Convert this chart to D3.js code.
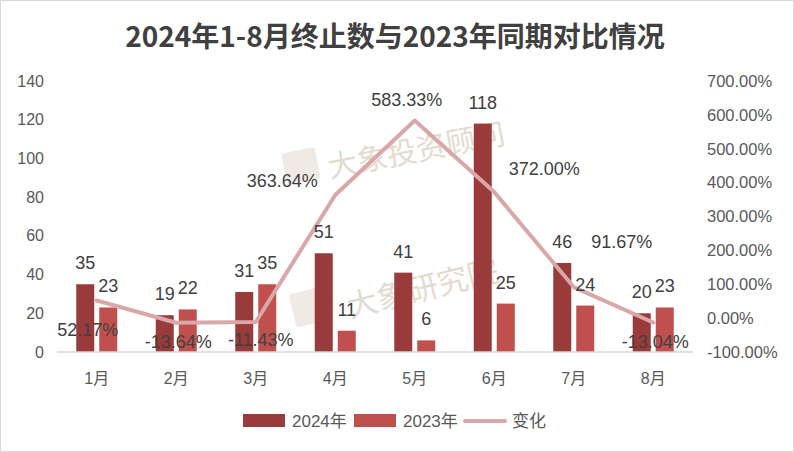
<!DOCTYPE html>
<html>
<head>
<meta charset="utf-8">
<script src="https://cdn.jsdelivr.net/npm/d3@7"></script>
<style>
  body { margin: 0; background: #fff; }
  svg { display: block; font-family: "Liberation Sans", "Noto Sans CJK SC", sans-serif; }
</style>
</head>
<body>
<svg></svg>
<script>
const months = ['1月', '2月', '3月', '4月', '5月', '6月', '7月', '8月'];
const y2024 = [35, 19, 31, 51, 41, 118, 46, 20];
const y2023 = [23, 22, 35, 11, 6, 25, 24, 23];
const change = [52.17, -13.64, -11.43, 363.64, 583.33, 372.00, 91.67, -13.04];
const leftTicks = [0, 20, 40, 60, 80, 100, 120, 140];
const rightTicks = [-100, 0, 100, 200, 300, 400, 500, 600, 700];
// where each change label sits relative to its point
const changeLabelPos = [[-9, 29], [2, 19], [5, 18], [-53, -14], [-8, -21], [50, -23], [48, -45], [2, 19]];

const width = 794, height = 452;
const margin = { left: 57, top: 81, right: 101, bottom: 100 };
const darkRed = '#9a3b3b', lightRed = '#c0504d', lineColor = '#d9a7a7', textColor = '#404040';

const svg = d3.select('svg').attr('width', width).attr('height', height);

svg.append('rect')
  .attr('x', 0.5).attr('y', 0.5)
  .attr('width', width - 1).attr('height', height - 1)
  .attr('fill', '#fff').attr('stroke', '#d9d9d9');

svg.append('text')
  .attr('x', 395).attr('y', 47)
  .attr('text-anchor', 'middle')
  .attr('font-size', 28).attr('font-weight', 'bold')
  .attr('fill', textColor)
  .attr('font-family', '"Noto Sans CJK SC", sans-serif')
  .text('2024年1-8月终止数与2023年同期对比情况');

const x = d3.scaleBand().domain(months).range([margin.left, width - margin.right]);
const yL = d3.scaleLinear().domain([0, 140]).range([352, margin.top]);
const yR = d3.scaleLinear().domain([-100, 700]).range([352, margin.top]);

// watermarks
const wm = svg.append('g').attr('fill', '#e4dbcf').attr('font-family', '"Noto Sans CJK SC", sans-serif');
wm.append('rect').attr('x', 284).attr('y', 150).attr('width', 34).attr('height', 32).attr('rx', 4)
  .attr('fill', '#efeae3').attr('transform', 'rotate(-11,301,166)');
wm.append('text').attr('transform', 'translate(330,178) rotate(-11)')
  .attr('font-size', 30).text('大象投资顾问');
wm.append('rect').attr('x', 292).attr('y', 290).attr('width', 34).attr('height', 34).attr('rx', 4)
  .attr('fill', '#efeae3').attr('transform', 'rotate(-14,309,307)');
wm.append('text').attr('transform', 'translate(350,318) rotate(-14)')
  .attr('font-size', 31).text('大象研究院');

// left axis
svg.append('g').selectAll('text').data(leftTicks).enter().append('text')
  .attr('x', 44).attr('y', d => yL(d)).attr('dy', '0.35em')
  .attr('text-anchor', 'end').attr('font-size', 16).attr('fill', '#595959')
  .text(d => d);

// right axis
svg.append('g').selectAll('text').data(rightTicks).enter().append('text')
  .attr('x', 707).attr('y', d => yR(d)).attr('dy', '0.35em')
  .attr('font-size', 16.5).attr('fill', '#595959')
  .text(d => d.toFixed(2) + '%');

const barW = 18, gap = 5;
const cx = m => x(m) + x.bandwidth() / 2;

svg.append('g').selectAll('rect').data(y2024).enter().append('rect')
  .attr('x', (d, i) => cx(months[i]) - gap / 2 - barW)
  .attr('y', d => yL(d)).attr('width', barW).attr('height', d => yL(0) - yL(d))
  .attr('fill', darkRed);
svg.append('g').selectAll('rect').data(y2023).enter().append('rect')
  .attr('x', (d, i) => cx(months[i]) + gap / 2)
  .attr('y', d => yL(d)).attr('width', barW).attr('height', d => yL(0) - yL(d))
  .attr('fill', lightRed);

// baseline
svg.append('line')
  .attr('x1', margin.left).attr('x2', width - margin.right)
  .attr('y1', yL(0)).attr('y2', yL(0))
  .attr('stroke', '#d9d9d9').attr('stroke-width', 1.5);

// change line
const line = d3.line().x((d, i) => cx(months[i])).y(d => yR(d));
svg.append('path').datum(change)
  .attr('d', line).attr('fill', 'none')
  .attr('stroke', lineColor).attr('stroke-width', 4)
  .attr('stroke-linejoin', 'round').attr('stroke-linecap', 'round');

// bar labels
svg.append('g').selectAll('text').data(y2024).enter().append('text')
  .attr('x', (d, i) => cx(months[i]) - gap / 2 - barW / 2)
  .attr('y', d => yL(d) - 15)
  .attr('text-anchor', 'middle').attr('font-size', 18).attr('fill', textColor)
  .text(d => d);
svg.append('g').selectAll('text').data(y2023).enter().append('text')
  .attr('x', (d, i) => cx(months[i]) + gap / 2 + barW / 2)
  .attr('y', d => yL(d) - 15)
  .attr('text-anchor', 'middle').attr('font-size', 18).attr('fill', textColor)
  .text(d => d);

// change labels
svg.append('g').selectAll('text').data(change).enter().append('text')
  .attr('x', (d, i) => cx(months[i]) + changeLabelPos[i][0])
  .attr('y', (d, i) => yR(d) + changeLabelPos[i][1])
  .attr('dy', '0.35em')
  .attr('text-anchor', 'middle').attr('font-size', 18).attr('fill', textColor)
  .text(d => d.toFixed(2) + '%');

// category labels
svg.append('g').selectAll('text').data(months).enter().append('text')
  .attr('x', d => cx(d)).attr('y', 384)
  .attr('text-anchor', 'middle').attr('font-size', 16).attr('fill', '#595959')
  .text(d => d);

// legend
const legend = svg.append('g').attr('font-size', 17).attr('fill', '#595959');
const legendItems = [
  { name: '2024年', x: 243, type: 'rect', color: darkRed },
  { name: '2023年', x: 354, type: 'rect', color: lightRed },
  { name: '变化', x: 463, type: 'line', color: lineColor }
];
legendItems.forEach(it => {
  if (it.type === 'rect') {
    legend.append('rect').attr('x', it.x).attr('y', 414).attr('width', 42).attr('height', 13).attr('fill', it.color);
  } else {
    legend.append('line').attr('x1', it.x + 2).attr('x2', it.x + 42).attr('y1', 421).attr('y2', 421)
      .attr('stroke', it.color).attr('stroke-width', 4).attr('stroke-linecap', 'round');
  }
  legend.append('text').attr('x', it.x + 49).attr('y', 421).attr('dy', '0.35em').text(it.name);
});
</script>
</body>
</html>
